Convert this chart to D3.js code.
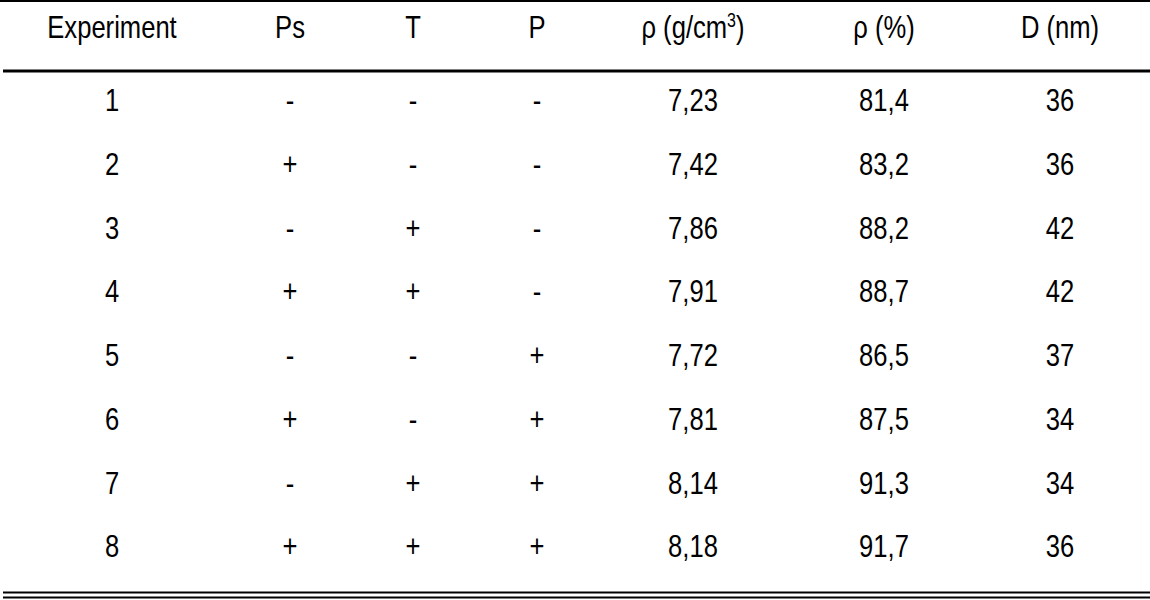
<!DOCTYPE html>
<html><head><meta charset="utf-8">
<script src="https://cdn.jsdelivr.net/npm/d3@7"></script>
<style>body{margin:0;background:#fff}svg{display:block}</style>
</head><body><svg id="c" width="1150" height="600"></svg>
<script>
const headers = ["Experiment","Ps","T","P","ρ (g/cm³)","ρ (%)","D (nm)"];
const experiment = ["1","2","3","4","5","6","7","8"];
const ps = ["-","+","-","+","-","+","-","+"];
const t = ["-","-","+","+","-","-","+","+"];
const p = ["-","-","-","-","+","+","+","+"];
const density = ["7,23","7,42","7,86","7,91","7,72","7,81","8,14","8,18"];
const densityPct = ["81,4","83,2","88,2","88,7","86,5","87,5","91,3","91,7"];
const diameter = ["36","36","42","42","37","34","34","36"];

const cols = [experiment, ps, t, p, density, densityPct, diameter];
const colX = [112, 290, 413, 537, 693, 884, 1060];
const svg = d3.select("#c");
const font = "'Liberation Sans',Arial,sans-serif";
const SX = 0.8;
const y = d3.scaleLinear().domain([0,7]).range([100,546]);

svg.append("line").attr("x1",0).attr("x2",1150).attr("y1",1).attr("y2",1).attr("stroke","#000").attr("stroke-width",2);
svg.append("line").attr("x1",3).attr("x2",1150).attr("y1",71).attr("y2",71).attr("stroke","#000").attr("stroke-width",3);
svg.append("line").attr("x1",3).attr("x2",1150).attr("y1",592.5).attr("y2",592.5).attr("stroke","#000").attr("stroke-width",2);
svg.append("line").attr("x1",3).attr("x2",1150).attr("y1",597.5).attr("y2",597.5).attr("stroke","#000").attr("stroke-width",2);

headers.forEach((h,i)=>{
  const tx = svg.append("text").attr("transform",`translate(${colX[i]},27) scale(${SX},1)`).attr("dy","0.35em")
    .attr("text-anchor","middle").attr("font-family",font).attr("font-size",32);
  if(h.indexOf("³")>=0){
    tx.append("tspan").text("ρ (g/cm");
    tx.append("tspan").text("3").attr("font-size",20).attr("dy","-0.55em");
    tx.append("tspan").text(")").attr("dy","0.35em");
  } else tx.text(h);
});
cols.forEach((col,i)=>{
  svg.selectAll(null).data(col).enter().append("text")
    .attr("transform",(d,j)=>`translate(${colX[i]},${y(j)}) scale(${SX},1)`).attr("dy","0.35em")
    .attr("text-anchor","middle").attr("font-family",font).attr("font-size",32)
    .text(d=>d);
});
</script></body></html>
